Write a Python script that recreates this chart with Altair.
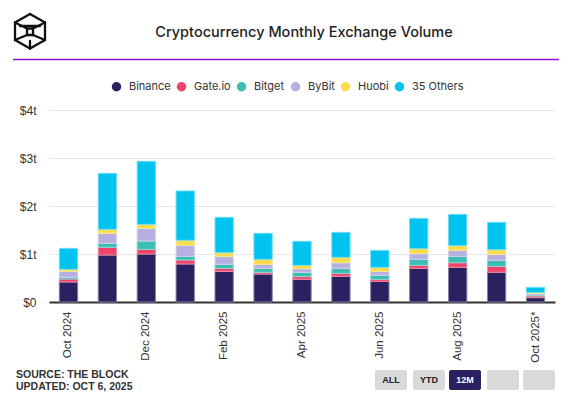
import altair as alt
import pandas as pd

months = ["Oct 2024", "Nov 2024", "Dec 2024", "Jan 2025", "Feb 2025", "Mar 2025",
          "Apr 2025", "May 2025", "Jun 2025", "Jul 2025", "Aug 2025", "Sep 2025", "Oct 2025*"]
tick_months = ["Oct 2024", "Dec 2024", "Feb 2025", "Apr 2025", "Jun 2025", "Aug 2025", "Oct 2025*"]

exchanges = ["Binance", "Gate.io", "Bitget", "ByBit", "Huobi", "35 Others"]
colors = ["#2a2160", "#ef4369", "#3dbdb1", "#b5b0e0", "#fcdc4d", "#00c3f0"]
strokes = ["#837ea6", "#f58aa3", "#86d8d0", "#d3d0ee", "#fde98f", "#6fdcf6"]

# values in trillions USD
binance = [0.417, 0.979, 1.000, 0.792, 0.639, 0.583, 0.472, 0.535, 0.431, 0.701, 0.722, 0.618, 0.090]
gate    = [0.062, 0.160, 0.097, 0.083, 0.062, 0.035, 0.056, 0.062, 0.041, 0.063, 0.097, 0.125, 0.035]
bitget  = [0.035, 0.083, 0.174, 0.076, 0.084, 0.083, 0.090, 0.104, 0.084, 0.125, 0.132, 0.125, 0.021]
bybit   = [0.125, 0.209, 0.264, 0.230, 0.166, 0.084, 0.076, 0.118, 0.083, 0.118, 0.125, 0.125, 0.034]
huobi   = [0.042, 0.083, 0.083, 0.104, 0.077, 0.104, 0.070, 0.112, 0.083, 0.104, 0.098, 0.097, 0.020]
others  = [0.437, 1.167, 1.313, 1.028, 0.736, 0.542, 0.500, 0.520, 0.354, 0.632, 0.652, 0.570, 0.106]

y_ticks = [0, 1, 2, 3, 4]

series = [binance, gate, bitget, bybit, huobi, others]
rows = []
for i, (ex, vals) in enumerate(zip(exchanges, series)):
    for m, v in zip(months, vals):
        rows.append({"month": m, "exchange": ex, "value": v, "order": i})
df = pd.DataFrame(rows)

OX, OY = 49, 110  # plot origin in page coords (incl. 8px page margin)

bars = alt.Chart(df).mark_bar(strokeWidth=1).encode(
    x=alt.X("month:N", sort=months, title=None,
            scale=alt.Scale(paddingInner=0.53, paddingOuter=0.265),
            axis=alt.Axis(values=tick_months, labelAngle=-90, labelAlign="right",
                          labelBaseline="middle", labelPadding=9, labelFont="Liberation Sans",
                          labelFontSize=11.5, labelColor="#333333", ticks=False,
                          domainColor="#333333", domainWidth=2, grid=False)),
    y=alt.Y("value:Q", stack="zero", title=None,
            scale=alt.Scale(domain=[0, 4], nice=False),
            axis=alt.Axis(values=y_ticks, labelExpr="datum.value == 0 ? '$0' : '$' + datum.value + 't'",
                          labelFont="Liberation Sans", labelFontSize=12, labelColor="#333333",
                          labelPadding=13, ticks=False, domain=False,
                          gridColor="#e8e8e8", gridWidth=1)),
    color=alt.Color("exchange:N", sort=exchanges,
                    scale=alt.Scale(domain=exchanges, range=colors),
                    legend=alt.Legend(title=None, orient="none", direction="horizontal",
                                      legendX=62, legendY=-29, symbolType="circle",
                                      symbolSize=90, symbolStrokeWidth=0, labelFont="Inter",
                                      labelFontSize=11, labelColor="#333333", labelOffset=7,
                                      columnPadding=5, padding=0)),
    stroke=alt.Stroke("exchange:N", scale=alt.Scale(domain=exchanges, range=strokes), legend=None),
    order=alt.Order("order:Q", sort="ascending"),
)

one = pd.DataFrame({"a": [0]})
layers = [bars]

# title
layers.append(alt.Chart(one).mark_text(
    text="Cryptocurrency Monthly Exchange Volume", font="Inter", fontSize=14.5, fontWeight=500,
    color="#222222", align="center", baseline="middle").encode(
    x=alt.value(304 - OX), y=alt.value(33 - OY)))

# purple separator
layers.append(alt.Chart(one).mark_rule(color="#9013d6", strokeWidth=1.5).encode(
    x=alt.value(13 - OX), x2=alt.value(559 - OX), y=alt.value(59.5 - OY)))

# logo (cube)
hexa = [(30, 14), (15, 22.5), (15, 40), (30, 48.5), (45, 40), (45, 22.5)]
segs = []
for k in range(6):
    segs.append((hexa[k], hexa[(k + 1) % 6]))
sq = [(27, 28.5), (33, 28.5), (33, 35), (27, 35)]
for k in range(4):
    segs.append((sq[k], sq[(k + 1) % 4]))
segs += [((15, 22.5), (27, 28.5)), ((45, 22.5), (33, 28.5)),
         ((15, 40), (27, 35)), ((45, 40), (33, 35)),
         ((20, 26), (40, 26)), ((30, 48.5), (30, 41))]
for (a, b) in segs:
    layers.append(alt.Chart(one).mark_rule(color="#111111", strokeWidth=2.3, strokeCap="round").encode(
        x=alt.value(a[0] - OX), y=alt.value(a[1] - OY),
        x2=alt.value(b[0] - OX), y2=alt.value(b[1] - OY)))

# footer
for txt, yy in [("SOURCE: THE BLOCK", 375), ("UPDATED: OCT 6, 2025", 387)]:
    layers.append(alt.Chart(one).mark_text(
        text=txt, font="Liberation Sans", fontSize=10.5, fontWeight="bold", color="#333333",
        align="left", baseline="middle").encode(x=alt.value(16 - OX), y=alt.value(yy - OY)))

# buttons
buttons = [("ALL", 375, "#d9d9d9", "#222222"), ("YTD", 413, "#d9d9d9", "#222222"),
           ("12M", 449, "#2a2160", "#ffffff"), ("", 487, "#d9d9d9", "#222222"),
           ("", 523, "#d9d9d9", "#222222")]
for lab, bx, fill, tcol in buttons:
    layers.append(alt.Chart(one).mark_rect(color=fill, cornerRadius=2).encode(
        x=alt.value(bx - OX), x2=alt.value(bx + 32 - OX),
        y=alt.value(370 - OY), y2=alt.value(390 - OY)))
    if lab:
        layers.append(alt.Chart(one).mark_text(
            text=lab, font="Liberation Sans", fontSize=9, fontWeight="bold", color=tcol,
            align="center", baseline="middle").encode(
            x=alt.value(bx + 16 - OX), y=alt.value(380 - OY)))

chart = alt.layer(*layers).properties(
    width=506, height=192,
    autosize=alt.AutoSizeParams(type="none"),
    padding={"left": OX - 8, "top": OY - 8, "right": 5, "bottom": 91},
    background="#ffffff",
).configure_view(stroke=None)

chart.save("out.html", embed_options={"renderer": "svg", "actions": False})
